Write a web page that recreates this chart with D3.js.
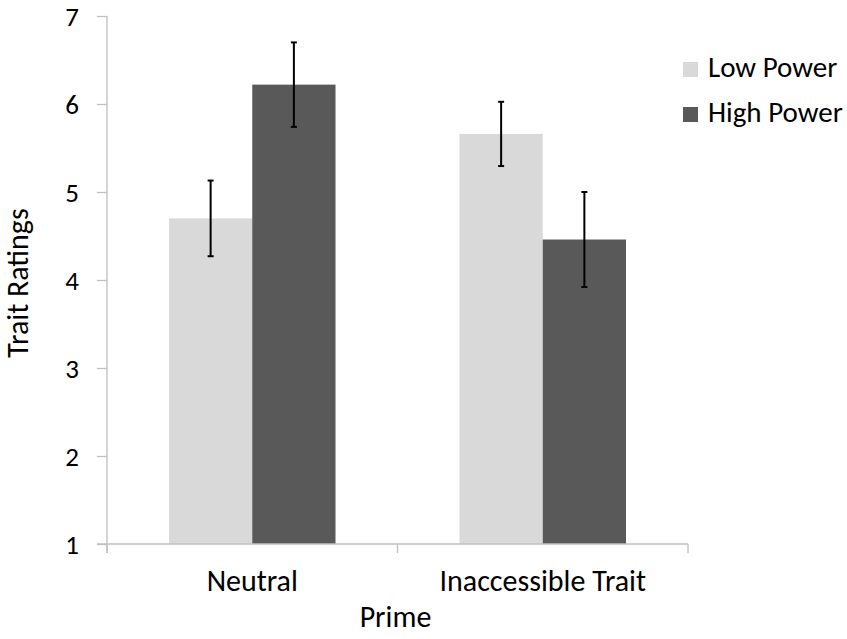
<!DOCTYPE html>
<html>
<head>
<meta charset="utf-8">
<script src="https://cdn.jsdelivr.net/npm/d3@7"></script>
<style>
  html, body { margin: 0; padding: 0; background: #fff; }
  svg text { font-family: Carlito, Calibri, Lato, sans-serif; fill: #000; }
</style>
</head>
<body>
<svg id="chart" width="847" height="639"></svg>
<script>
const categories = ["Neutral", "Inaccessible Trait"];
const seriesNames = ["Low Power", "High Power"];
const lowPower = [4.70, 5.66];
const highPower = [6.22, 4.46];
const lowPowerErr = [0.43, 0.365];
const highPowerErr = [0.48, 0.54];
const yTicks = [1, 2, 3, 4, 5, 6, 7];
const colors = ["#d9d9d9", "#595959"];

const series = [
  { name: seriesNames[0], values: lowPower, errs: lowPowerErr, color: colors[0] },
  { name: seriesNames[1], values: highPower, errs: highPowerErr, color: colors[1] }
];

const svg = d3.select("#chart");
const margin = { left: 107, right: 159, top: 16, bottom: 95 };

const x0 = d3.scaleBand().domain(categories).range([margin.left, 688]).paddingInner(0).paddingOuter(0);
const y = d3.scaleLinear().domain([1, 7]).range([544, 16]);
const groupPad = 62 / 290.5;
const x1 = d3.scaleBand().domain(seriesNames)
  .range([x0.bandwidth() * groupPad, x0.bandwidth() * (1 - groupPad)]).padding(0);

// bars
series.forEach(s => {
  svg.append("g").selectAll("rect").data(categories).join("rect")
    .attr("x", (c) => x0(c) + x1(s.name))
    .attr("width", x1.bandwidth())
    .attr("y", (c, i) => y(s.values[i]))
    .attr("height", (c, i) => y(1) - y(s.values[i]))
    .attr("fill", s.color);
});

// axes
const yAxis = svg.append("g").attr("transform", `translate(${margin.left},0)`)
  .call(d3.axisLeft(y).tickValues(yTicks).tickFormat(d3.format("d")).tickSize(10).tickPadding(18));
yAxis.select(".domain").attr("stroke", "#bfbfbf").attr("stroke-width", 1.3)
  .attr("d", `M0,${y(7)}V${y(1) + 9}`);
yAxis.selectAll(".tick line").attr("stroke", "#bfbfbf").attr("stroke-width", 1.3);
yAxis.selectAll(".tick text").style("font-size", "27px").attr("dy", "0.36em");

const xAxis = svg.append("g").attr("transform", `translate(0,${y(1)})`);
xAxis.append("line").attr("x1", margin.left - 10).attr("x2", 688)
  .attr("stroke", "#bfbfbf").attr("stroke-width", 1.3);
const boundaries = [x0(categories[0]), x0(categories[1]), x0(categories[1]) + x0.bandwidth()];
xAxis.selectAll(".bt").data(boundaries).join("line")
  .attr("x1", d => d).attr("x2", d => d).attr("y1", 0).attr("y2", 9)
  .attr("stroke", "#bfbfbf").attr("stroke-width", 1.3);
xAxis.selectAll(".cl").data(categories).join("text")
  .attr("x", d => x0(d) + x0.bandwidth() / 2).attr("y", 46.7)
  .attr("text-anchor", "middle").style("font-size", "30px").text(d => d);

// error bars
series.forEach(s => {
  const g = svg.append("g").attr("stroke", "#000").attr("stroke-width", 2);
  categories.forEach((c, i) => {
    const cx = x0(c) + x1(s.name) + x1.bandwidth() / 2;
    const yt = y(s.values[i] + s.errs[i]), yb = y(s.values[i] - s.errs[i]);
    g.append("line").attr("x1", cx).attr("x2", cx).attr("y1", yt).attr("y2", yb);
    g.append("line").attr("x1", cx - 3).attr("x2", cx + 3).attr("y1", yt).attr("y2", yt);
    g.append("line").attr("x1", cx - 3).attr("x2", cx + 3).attr("y1", yb).attr("y2", yb);
  });
});

// axis titles
svg.append("text").attr("x", (margin.left + 688) / 2 - 2).attr("y", 627)
  .attr("text-anchor", "middle").style("font-size", "30px").text("Prime");
svg.append("text").attr("transform", "translate(28,283) rotate(-90)")
  .attr("text-anchor", "middle").style("font-size", "30px").text("Trait Ratings");

// legend
const lg = svg.append("g");
series.forEach((s, i) => {
  const yy = 62 + i * 45;
  lg.append("rect").attr("x", 683).attr("y", yy).attr("width", 15).attr("height", 15).attr("fill", s.color);
  lg.append("text").attr("x", 708).attr("y", yy + 15).style("font-size", "29px").text(s.name);
});
</script>
</body>
</html>
